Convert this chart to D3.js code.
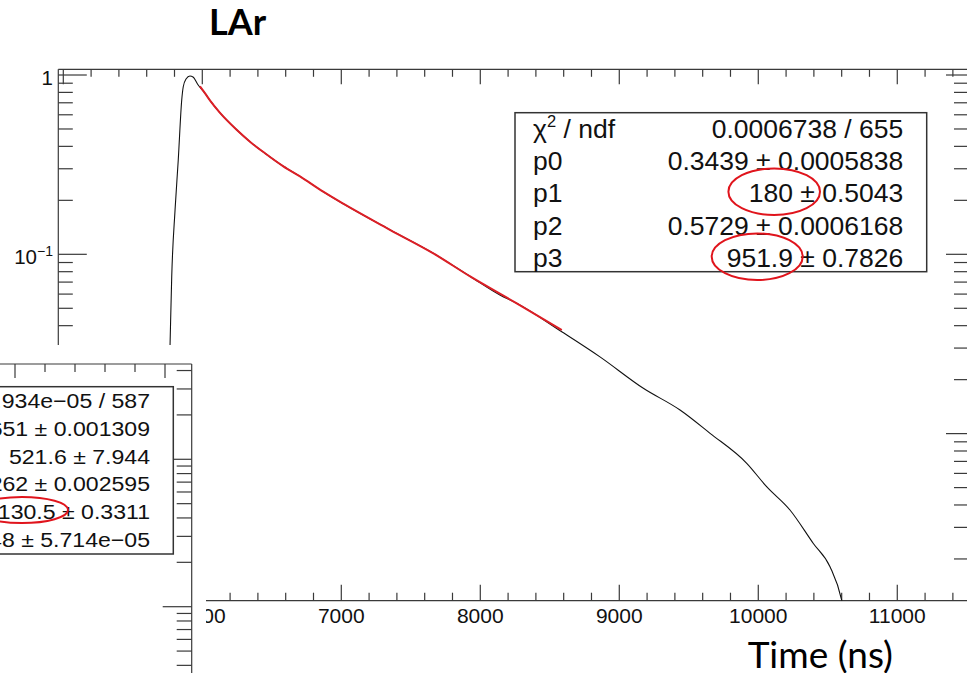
<!DOCTYPE html>
<html><head><meta charset="utf-8">
<script src="https://cdn.jsdelivr.net/npm/d3@7"></script>
<style>html,body{margin:0;padding:0;background:#fff;overflow:hidden;} svg{display:block;}</style>
</head><body>
<svg id="c" width="967" height="673"></svg>
<script>
// ---------------- data ----------------
const dataTime  = [5740, 5768, 5780, 5804, 5827, 5852, 5863, 5883, 5911, 5933, 5969, 6020, 6055, 6126, 6247, 6345, 6451, 6583, 6703, 6870, 7014, 7353, 7662, 7930, 8141, 8262, 8586, 8861, 9173, 9437, 9653, 9917, 10060, 10228, 10396, 10516, 10600, 10640];
const dataValue = [0.004, 0.0312, 0.075, 0.177, 0.336, 0.726, 0.86, 0.95, 0.987, 0.975, 0.883, 0.79, 0.722, 0.617, 0.495, 0.4235, 0.366, 0.3095, 0.272, 0.2235, 0.1915, 0.1366, 0.1013, 0.075, 0.0593, 0.0533, 0.037, 0.0268, 0.0179, 0.01354, 0.01004, 0.00683, 0.00506, 0.00375, 0.00244, 0.00181, 0.00118, 0.0008];
const fitTime   = [5983, 6020, 6055, 6126, 6247, 6345, 6451, 6583, 6703, 6870, 7014, 7353, 7662, 7930, 8262, 8586];
const fitValue  = [0.864, 0.79, 0.722, 0.617, 0.495, 0.4235, 0.366, 0.3095, 0.272, 0.2235, 0.1915, 0.1366, 0.1013, 0.075, 0.0533, 0.0378];
const xTickValues = [5000, 6000, 7000, 8000, 9000, 10000, 11000];
const xTickLabels = ["5000", "6000", "7000", "8000", "9000", "10000", "11000"];
const yTickValues = [1, 0.1, 0.01];
const yTickBase   = ["1", "10", "10"];
const yTickExp    = ["", "\u22121", "\u22122"];
const statLabels  = ["\u03c7", "p0", "p1", "p2", "p3"];
const statValues  = ["0.0006738 / 655", "0.3439 \u00b1 0.0005838", "180 \u00b1 0.5043", "0.5729 \u00b1 0.0006168", "951.9 \u00b1 0.7826"];
const stat2Values = ["1.934e\u221205 / 587", "0.3651 \u00b1 0.001309", "521.6 \u00b1 7.944", "0.6262 \u00b1 0.002595", "130.5 \u00b1 0.3311", "0.001948 \u00b1 5.714e\u221205"];
const titleText = "LAr";
const xTitleText = "Time (ns)";

// ---------------- drawing ----------------
const svg = d3.select("#c");
const ROOTF = "'Liberation Sans', Arial, Helvetica, sans-serif";
const L = 58.3, R = 969, T = 69.3, B = 600.7;

const x = d3.scaleLinear().domain([4964, 11516]).range([L, R]);
const y = d3.scaleLog().domain([0.00117, 1.076]).range([B, T]);

svg.append("defs").append("clipPath").attr("id", "plotclip")
  .append("rect").attr("x", L).attr("y", T).attr("width", R - L).attr("height", B - T);

const frameCol = "#3a3a3a";
const gAx = svg.append("g").attr("stroke", frameCol).attr("stroke-width", 1.2).attr("fill", "none");
gAx.append("line").attr("x1", L).attr("x2", R).attr("y1", T).attr("y2", T);
gAx.append("line").attr("x1", L).attr("x2", R).attr("y1", B).attr("y2", B);
gAx.append("line").attr("x1", L).attr("x2", L).attr("y1", T).attr("y2", B);
gAx.append("line").attr("x1", R).attr("x2", R).attr("y1", T).attr("y2", B);

const xt = d3.range(5000, 11600, 200);
xt.forEach(t => {
  const maj = t % 1000 === 0;
  gAx.append("line").attr("x1", x(t)).attr("x2", x(t)).attr("y1", B).attr("y2", B - (maj ? 16 : 8));
  gAx.append("line").attr("x1", x(t)).attr("x2", x(t)).attr("y1", T).attr("y2", T + (maj ? 15 : 7.5));
});
y.ticks().forEach(v => {
  const m = v / Math.pow(10, Math.floor(Math.log10(v) + 1e-9));
  const maj = Math.abs(m - 1) < 1e-6;
  gAx.append("line").attr("x1", L).attr("x2", L + (maj ? 28.5 : 14.5)).attr("y1", y(v)).attr("y2", y(v));
  gAx.append("line").attr("x1", R).attr("x2", R - (maj ? 23 : 15)).attr("y1", y(v)).attr("y2", y(v));
});

xTickValues.forEach((t, i) => {
  svg.append("text").attr("x", x(t)).attr("y", 622.5).attr("text-anchor", "middle")
    .attr("font-family", ROOTF).attr("font-size", 21).attr("fill", "#111").text(xTickLabels[i]);
});
yTickValues.forEach((v, i) => {
  const tx = svg.append("text").attr("x", 53).attr("y", y(v) + 10).attr("text-anchor", "end")
    .attr("font-family", ROOTF).attr("font-size", 20.5).attr("fill", "#111");
  tx.append("tspan").text(yTickBase[i]);
  if (yTickExp[i]) tx.append("tspan").attr("dy", -8.5).attr("font-size", 14).text(yTickExp[i]);
});

const gC = svg.append("g").attr("clip-path", "url(#plotclip)");
const line = d3.line().x(d => x(d[0])).y(d => y(d[1])).curve(d3.curveMonotoneX);
gC.append("path").datum(dataTime.map((t, i) => [t, dataValue[i]]))
  .attr("d", line).attr("fill", "none").attr("stroke", "#111").attr("stroke-width", 1.1);
gC.append("path").datum(fitTime.map((t, i) => [t, fitValue[i]]))
  .attr("d", line).attr("fill", "none").attr("stroke", "#dc1f26").attr("stroke-width", 2);

svg.append("rect").attr("x", 515).attr("y", 112.7).attr("width", 411.7).attr("height", 159)
  .attr("fill", "#fff").attr("stroke", "#333").attr("stroke-width", 1.5);
statLabels.forEach((s, i) => {
  const by = 138 + i * 32.2;
  const t = svg.append("text").attr("x", 533).attr("y", by).attr("font-family", ROOTF)
    .attr("font-size", 26.5).attr("fill", "#111");
  t.append("tspan").text(s);
  if (i === 0) {
    t.append("tspan").attr("dy", -11).attr("font-size", 16.5).text("2");
    t.append("tspan").attr("dy", 11).text(" / ndf");
  }
  svg.append("text").attr("x", 903.3).attr("y", by).attr("text-anchor", "end").attr("font-family", ROOTF)
    .attr("font-size", 26.5).attr("fill", "#111").text(statValues[i]);
});
svg.append("ellipse").attr("cx", 774.2).attr("cy", 191.7).attr("rx", 45.8).attr("ry", 23.3)
  .attr("fill", "none").attr("stroke", "#e0141c").attr("stroke-width", 2);
svg.append("ellipse").attr("cx", 757.2).attr("cy", 256.7).attr("rx", 45.5).attr("ry", 23.3)
  .attr("fill", "none").attr("stroke", "#e0141c").attr("stroke-width", 2);

// ---------------- overlapping second panel (bottom-left) ----------------
svg.append("rect").attr("x", 0).attr("y", 345).attr("width", 206).attr("height", 330).attr("fill", "#fff");
const F2R = 191.7, F2T = 364;
const x2 = d3.scaleLinear().domain([7900, 9178]).range([0, F2R]);
const y2 = d3.scaleLog().domain([0.00355, 0.443]).range([673, F2T]);
const g2 = svg.append("g").attr("stroke", frameCol).attr("stroke-width", 1.2).attr("fill", "none");
g2.append("line").attr("x1", -5).attr("x2", F2R).attr("y1", F2T).attr("y2", F2T);
g2.append("line").attr("x1", F2R).attr("x2", F2R).attr("y1", F2T).attr("y2", 680);
d3.range(8000, 9180, 200).forEach(t => {
  const maj = t % 1000 === 0;
  g2.append("line").attr("x1", x2(t)).attr("x2", x2(t)).attr("y1", F2T).attr("y2", F2T + (maj ? 14 : 8));
});
y2.ticks().forEach(v => {
  const m = v / Math.pow(10, Math.floor(Math.log10(v) + 1e-9));
  const maj = Math.abs(m - 1) < 1e-6;
  g2.append("line").attr("x1", F2R).attr("x2", F2R - (maj ? 29 : 15)).attr("y1", y2(v)).attr("y2", y2(v));
});
svg.append("rect").attr("x", -50).attr("y", 386.7).attr("width", 223.3).attr("height", 167.3)
  .attr("fill", "#fff").attr("stroke", "#333").attr("stroke-width", 1.5);
stat2Values.forEach((s, i) => {
  svg.append("g").attr("transform", `translate(150,${408 + i * 27.75}) scale(1.1,1)`)
    .append("text").attr("text-anchor", "end").attr("font-family", ROOTF)
    .attr("font-size", 21).attr("fill", "#111").text(s);
});
svg.append("ellipse").attr("cx", 22).attr("cy", 510).attr("rx", 46).attr("ry", 13)
  .attr("fill", "none").attr("stroke", "#e0141c").attr("stroke-width", 2);

svg.append("text").attr("x", 209).attr("y", 35).attr("font-family", "Lato, sans-serif")
  .attr("font-weight", 700).attr("font-size", 36).attr("fill", "#000").text(titleText);
svg.append("text").attr("x", 893).attr("y", 668).attr("text-anchor", "end").attr("font-family", "Lato, sans-serif")
  .attr("font-size", 37).attr("fill", "#000").text(xTitleText);
</script>
</body></html>
